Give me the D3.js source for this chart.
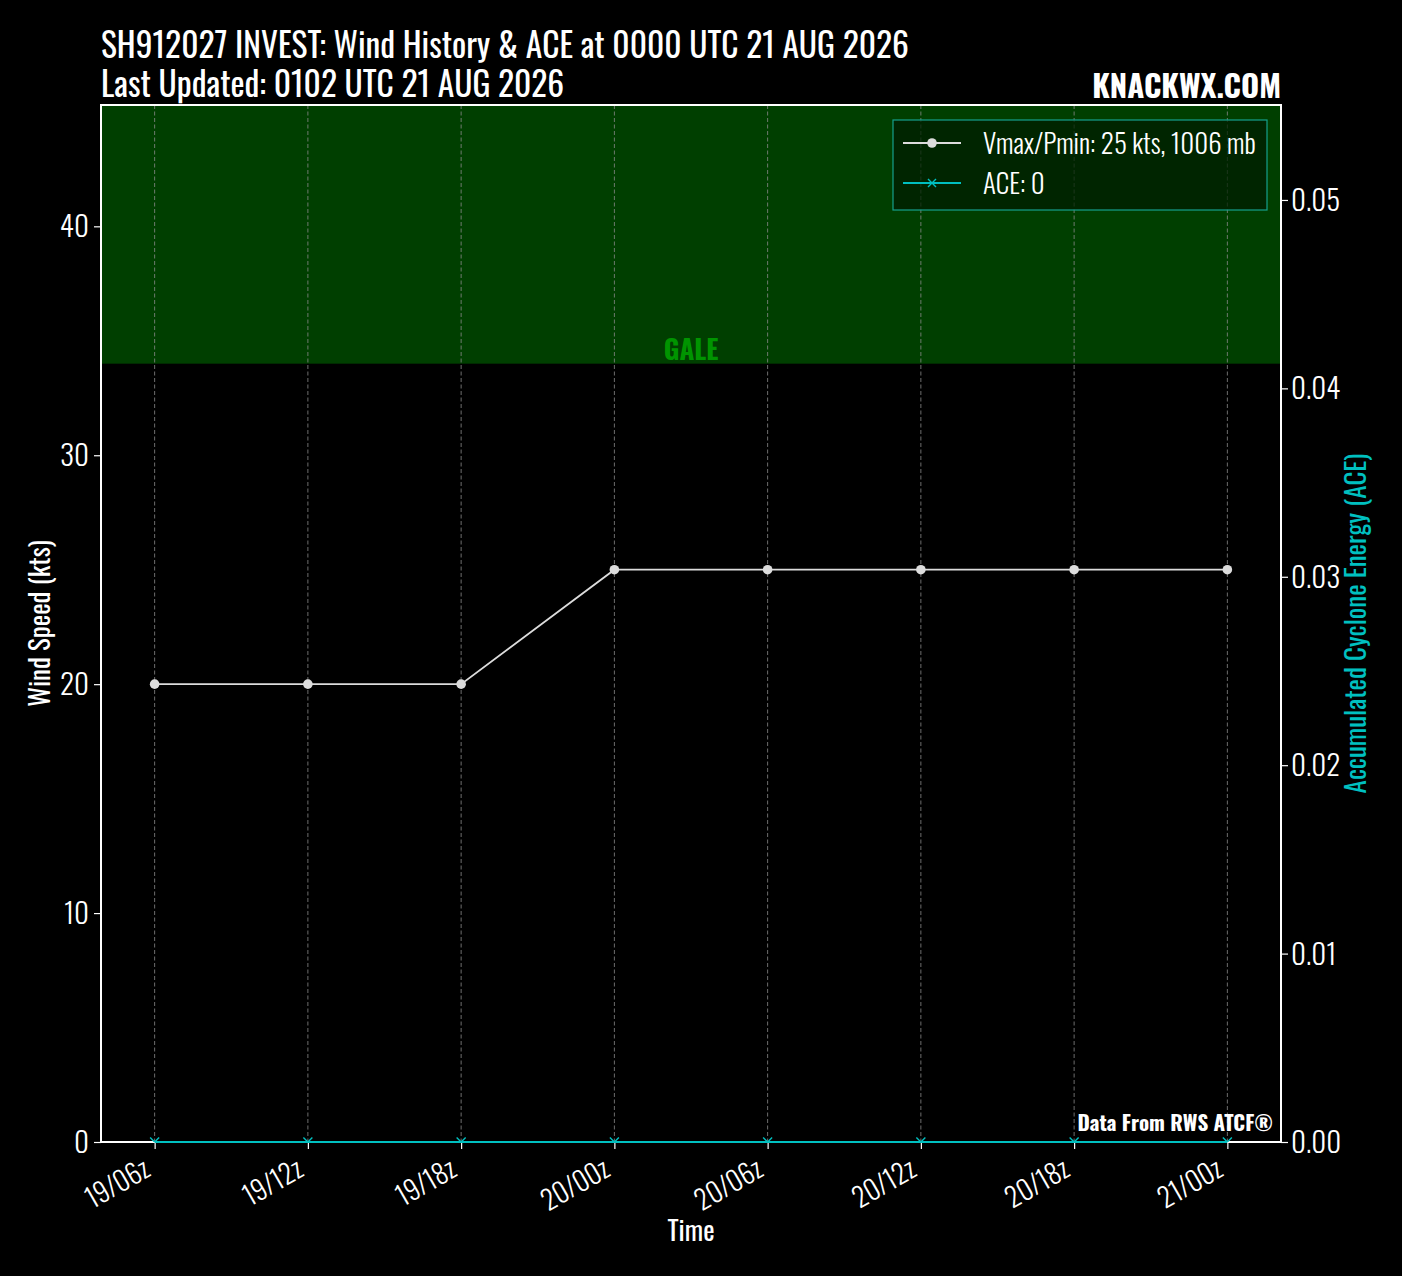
<!DOCTYPE html>
<html>
<head>
<meta charset="utf-8">
<script src="https://cdn.jsdelivr.net/npm/d3@7"></script>
<style>
  body { margin: 0; background: #000; }
  svg text { font-family: Oswald, 'Liberation Sans Narrow', 'DejaVu Sans Condensed', sans-serif; }
</style>
</head>
<body>
<div id="chart"></div>
<script>
// data
const times = ['19/06z', '19/12z', '19/18z', '20/00z', '20/06z', '20/12z', '20/18z', '21/00z'];
const vmax = [20, 20, 20, 25, 25, 25, 25, 25];
const ace = [0, 0, 0, 0, 0, 0, 0, 0];
const windTicks = [0, 10, 20, 30, 40];
const aceTicks = [0, 0.01, 0.02, 0.03, 0.04, 0.05];
const galeLevel = 34;
const titleLines = ['SH912027 INVEST: Wind History & ACE at 0000 UTC 21 AUG 2026', 'Last Updated: 0102 UTC 21 AUG 2026'];
const legendLabels = ['Vmax/Pmin: 25 kts, 1006 mb', 'ACE: 0'];

const width = 1402, height = 1276;
const margin = { top: 105, right: 121, bottom: 134, left: 101 };
const innerWidth = width - margin.left - margin.right;
const innerHeight = height - margin.top - margin.bottom;

const svg = d3.select('#chart').append('svg')
    .attr('width', width)
    .attr('height', height)
    .style('background', '#000');

const g = svg.append('g').attr('transform', `translate(${margin.left},${margin.top})`);

g.append('clipPath').attr('id', 'plotclip')
  .append('rect').attr('width', innerWidth).attr('height', innerHeight);

const xScale = d3.scaleLinear()
    .domain([-0.35, times.length - 1 + 0.35])
    .range([0, innerWidth]);
const yScale = d3.scaleLinear().domain([0, 45.3]).range([innerHeight, 0]);
const y2Scale = d3.scaleLinear().domain([0, 0.05504]).range([innerHeight, 0]);

// gale band
g.append('rect')
    .attr('x', 0).attr('y', 0)
    .attr('width', innerWidth)
    .attr('height', yScale(galeLevel))
    .attr('fill', '#003f00');

g.append('text')
    .attr('x', innerWidth / 2)
    .attr('y', yScale(galeLevel) - 4)
    .attr('text-anchor', 'middle')
    .attr('fill', '#009400')
    .attr('font-size', 27)
    .attr('font-weight', 'bold')
    .text('GALE');

// vertical grid
g.selectAll('.grid')
  .data(times)
  .enter().append('line')
    .attr('x1', (d, i) => xScale(i)).attr('x2', (d, i) => xScale(i))
    .attr('y1', 0).attr('y2', innerHeight)
    .attr('stroke', '#8a8a8a')
    .attr('stroke-width', 0.8)
    .attr('stroke-dasharray', '4,2.5');

// axes
const xAxis = d3.axisBottom(xScale)
    .tickValues(d3.range(times.length))
    .tickFormat(i => times[i])
    .tickSize(7).tickPadding(6);
const yAxis = d3.axisLeft(yScale).tickValues(windTicks).tickSize(7).tickPadding(5);
const y2Axis = d3.axisRight(y2Scale).tickValues(aceTicks).tickFormat(d3.format('.2f')).tickSize(7).tickPadding(3);

function styleAxis(sel, size) {
  sel.select('.domain').remove();
  sel.selectAll('line').attr('stroke', '#fff').attr('stroke-width', 1.2);
  sel.selectAll('text').attr('fill', '#fff').attr('font-size', size).attr('font-weight', 300).attr('font-family', null);
}

const gx = g.append('g').attr('transform', `translate(0,${innerHeight})`).call(xAxis).call(styleAxis, 27);
gx.selectAll('text')
    .attr('text-anchor', 'end')
    .attr('dy', null)
    .attr('y', 0)
    .attr('transform', 'translate(-3,33) rotate(-30)');

g.append('g').call(yAxis).call(styleAxis, 29)
  .selectAll('text').attr('dy', '0.36em');
g.append('g').attr('transform', `translate(${innerWidth},0)`).call(y2Axis).call(styleAxis, 29)
  .selectAll('text').attr('dy', '0.36em');

// frame
g.append('rect')
    .attr('width', innerWidth).attr('height', innerHeight)
    .attr('fill', 'none').attr('stroke', '#fff').attr('stroke-width', 1.2)
    .attr('shape-rendering', 'crispEdges');

// wind line
const plot = g.append('g').attr('clip-path', 'url(#plotclip)');
const windLine = d3.line().x((d, i) => xScale(i)).y(d => yScale(d));
plot.append('path')
    .datum(vmax)
    .attr('fill', 'none')
    .attr('stroke', '#dcdcdc')
    .attr('stroke-width', 1.8)
    .attr('d', windLine);
plot.selectAll('.dot')
  .data(vmax)
  .enter().append('circle')
    .attr('cx', (d, i) => xScale(i))
    .attr('cy', d => yScale(d))
    .attr('r', 4.8)
    .attr('fill', '#dcdcdc');

// ACE line, drawn over the bottom spine
const aceLine = d3.line().x((d, i) => xScale(i)).y(d => y2Scale(d));
g.append('path')
    .datum(ace)
    .attr('fill', 'none')
    .attr('stroke', '#00c0c0')
    .attr('stroke-width', 2)
    .attr('d', aceLine);
plot.selectAll('.xmark')
  .data(ace)
  .enter().append('path')
    .attr('transform', (d, i) => `translate(${xScale(i)},${y2Scale(d)})`)
    .attr('d', 'M-4.5,-4.5L4.5,4.5M-4.5,4.5L4.5,-4.5')
    .attr('stroke', '#00c0c0')
    .attr('stroke-width', 1.4);

// axis labels
g.append('text')
    .attr('x', -innerHeight / 2)
    .attr('y', -margin.left + 50)
    .attr('transform', 'rotate(-90)')
    .attr('text-anchor', 'middle')
    .attr('fill', '#fff')
    .attr('font-size', 27)
    .text('Wind Speed (kts)');

g.append('text')
    .attr('x', innerWidth / 2)
    .attr('y', innerHeight + 99)
    .attr('text-anchor', 'middle')
    .attr('fill', '#fff')
    .attr('font-size', 27)
    .text('Time');

g.append('text')
    .attr('x', -innerHeight / 2)
    .attr('y', innerWidth + 85)
    .attr('transform', 'rotate(-90)')
    .attr('text-anchor', 'middle')
    .attr('fill', '#00c0c0')
    .attr('font-size', 27)
    .text('Accumulated Cyclone Energy (ACE)');

// data source note
g.append('text')
    .attr('x', innerWidth - 8)
    .attr('y', innerHeight - 11)
    .attr('text-anchor', 'end')
    .attr('fill', '#fff')
    .attr('font-size', 21)
    .attr('font-weight', 'bold')
    .text('Data From RWS ATCF®');

// legend
const legend = g.append('g').attr('transform', `translate(${innerWidth - 388},15)`);
legend.append('rect')
    .attr('width', 374).attr('height', 90)
    .attr('fill', 'rgba(0,30,0,0.75)')
    .attr('stroke', '#14a08c').attr('stroke-width', 1.2);

const legendColors = ['#dcdcdc', '#00c0c0'];
legendLabels.forEach((label, i) => {
  const ly = 23 + i * 40;
  legend.append('line')
      .attr('x1', 10).attr('x2', 68).attr('y1', ly).attr('y2', ly)
      .attr('stroke', legendColors[i]).attr('stroke-width', 1.8);
  if (i === 0) {
    legend.append('circle').attr('cx', 39).attr('cy', ly).attr('r', 4.8).attr('fill', legendColors[i]);
  } else {
    legend.append('path')
        .attr('transform', `translate(39,${ly})`)
        .attr('d', 'M-4,-4L4,4M-4,4L4,-4')
        .attr('stroke', legendColors[i]).attr('stroke-width', 1.4);
  }
  legend.append('text')
      .attr('x', 90).attr('y', ly + 11)
      .attr('fill', '#fff')
      .attr('font-size', 27)
      .attr('font-weight', 300)
      .text(label);
});

// titles
svg.selectAll('.title')
  .data(titleLines)
  .enter().append('text')
    .attr('x', margin.left)
    .attr('y', (d, i) => 58 + i * 39)
    .attr('fill', '#fff')
    .attr('font-size', 33.5)
    .text(d => d);

svg.append('text')
    .attr('x', margin.left + innerWidth)
    .attr('y', 98)
    .attr('text-anchor', 'end')
    .attr('fill', '#fff')
    .attr('font-size', 31)
    .attr('font-weight', 'bold')
    .text('KNACKWX.COM');
</script>
</body>
</html>
